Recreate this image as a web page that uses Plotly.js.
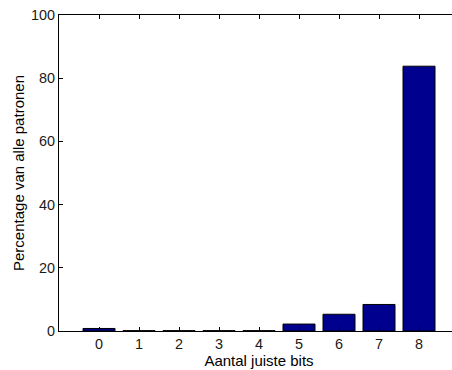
<!DOCTYPE html>
<html><head><meta charset="utf-8">
<script src="https://cdn.plot.ly/plotly-3.0.1.min.js"></script>
<style>html,body{margin:0;padding:0;overflow:hidden;background:#fff;width:452px;height:370px}</style>
</head><body>
<div id="chart" style="width:470px;height:370px"></div>
<script>
const categories = [0, 1, 2, 3, 4, 5, 6, 7, 8];
const percentages = [0.8, 0.1, 0.1, 0.1, 0.1, 2.2, 5.3, 8.4, 83.8];
const xTickLabels = ['0','1','2','3','4','5','6','7','8'];
const yTicks = [0, 20, 40, 60, 80, 100];

const trace = {
  type: 'bar', x: categories, y: percentages, width: 0.8,
  marker: {color: '#00008F', line: {color: '#000', width: 1}},
  hoverinfo: 'none'
};
const tickFont = {family: 'Liberation Sans, Arial, sans-serif', size: 14.4, color: '#1a1a1a'};
const titleFont = {family: 'Liberation Sans, Arial, sans-serif', size: 15, color: '#000'};
const layout = {
  width: 470, height: 370,
  margin: {l: 59, r: 11, t: 15, b: 39},
  paper_bgcolor: '#fff', plot_bgcolor: '#fff',
  font: tickFont,
  showlegend: false,
  xaxis: {
    range: [-1, 9], tickvals: categories, ticktext: xTickLabels,
    ticks: 'inside', ticklen: 4, tickcolor: '#000', showgrid: false, zeroline: false,
    showline: true, linecolor: '#000', linewidth: 1, mirror: 'allticks',
    tickfont: tickFont,
    title: {text: 'Aantal juiste bits', font: titleFont, standoff: 0}
  },
  yaxis: {
    range: [0, 100], tickvals: yTicks,
    ticks: 'inside', ticklen: 4, tickcolor: '#000', showgrid: false, zeroline: false,
    showline: true, linecolor: '#000', linewidth: 1, mirror: 'allticks',
    tickfont: tickFont,
    title: {text: 'Percentage van alle patronen', font: titleFont, standoff: 2}
  }
};
Plotly.newPlot('chart', [trace], layout, {staticPlot: true});
</script>
</body></html>
